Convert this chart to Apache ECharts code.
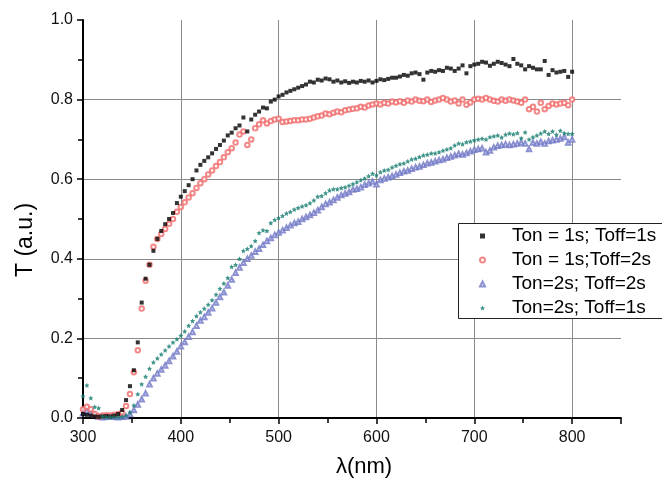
<!DOCTYPE html>
<html>
<head>
<meta charset="utf-8">
<script src="https://cdn.jsdelivr.net/npm/echarts@6/dist/echarts.min.js"></script>
<style>
html,body{margin:0;padding:0;background:#fff;}
#chart{width:662px;height:484px;}
</style>
</head>
<body>
<div id="chart"></div>
<script>
const wavelengths = [
  300,304,308,312,316,320,324,328,332,336,
  340,344,348,352,356,360,364,368,372,376,
  380,384,388,392,396,400,404,408,412,416,
  420,424,428,432,436,440,444,448,452,456,
  460,464,468,472,476,480,484,488,492,496,
  500,504,508,512,516,520,524,528,532,536,
  540,544,548,552,556,560,564,568,572,576,
  580,584,588,592,596,600,604,608,612,616,
  620,624,628,632,636,640,644,648,652,656,
  660,664,668,672,676,680,684,688,692,696,
  700,704,708,712,716,720,724,728,732,736,
  740,744,748,752,756,760,764,768,772,776,
  780,784,788,792,796,800
];
const seriesNames = ['Ton = 1s; Toff=1s', 'Ton = 1s;Toff=2s', 'Ton=2s; Toff=2s', 'Ton=2s; Toff=1s'];
const tOn1Off1 = [
  0.010,0.008,0.006,0.004,0.003,0.004,0.005,0.004,0.006,0.010,
  0.020,0.045,0.080,0.120,0.190,0.290,0.350,0.385,0.420,0.450,
  0.470,0.487,0.500,0.515,0.540,0.556,0.570,0.585,0.600,0.622,
  0.636,0.646,0.655,0.665,0.676,0.686,0.697,0.710,0.717,0.728,
  0.735,0.755,0.720,0.750,0.762,0.770,0.780,0.778,0.795,0.800,
  0.808,0.812,0.818,0.822,0.826,0.830,0.834,0.838,0.845,0.843,
  0.850,0.848,0.853,0.851,0.845,0.848,0.843,0.846,0.842,0.845,
  0.843,0.847,0.845,0.848,0.843,0.847,0.851,0.849,0.852,0.855,
  0.855,0.858,0.862,0.860,0.866,0.868,0.864,0.850,0.868,0.872,
  0.870,0.874,0.872,0.880,0.878,0.872,0.878,0.886,0.866,0.884,
  0.888,0.890,0.895,0.893,0.885,0.890,0.895,0.892,0.888,0.884,
  0.902,0.890,0.886,0.876,0.884,0.880,0.876,0.876,0.897,0.862,
  0.874,0.868,0.870,0.872,0.857,0.870
];
const tOn1Off2 = [
  0.022,0.028,0.022,0.010,0.004,0.006,0.007,0.006,0.008,0.010,
  0.014,0.030,0.060,0.115,0.170,0.275,0.345,0.385,0.430,0.450,
  0.462,0.475,0.488,0.500,0.518,0.530,0.542,0.554,0.565,0.578,
  0.590,0.600,0.612,0.622,0.633,0.643,0.655,0.668,0.678,0.692,
  0.712,0.720,0.686,0.700,0.728,0.738,0.748,0.740,0.746,0.750,
  0.752,0.744,0.745,0.746,0.748,0.748,0.750,0.750,0.752,0.755,
  0.758,0.760,0.765,0.763,0.767,0.770,0.768,0.773,0.775,0.777,
  0.778,0.782,0.780,0.785,0.788,0.790,0.788,0.792,0.790,0.795,
  0.793,0.796,0.792,0.798,0.795,0.800,0.797,0.796,0.800,0.794,
  0.798,0.800,0.804,0.800,0.795,0.798,0.790,0.800,0.787,0.793,
  0.800,0.802,0.800,0.804,0.800,0.797,0.795,0.800,0.797,0.800,
  0.798,0.795,0.792,0.800,0.776,0.782,0.770,0.792,0.776,0.784,
  0.790,0.788,0.790,0.792,0.786,0.800
];
const tOn2Off2 = [
  0.012,0.018,0.014,0.008,0.003,0.002,0.003,0.004,0.003,0.002,
  0.003,0.004,0.010,0.020,0.034,0.047,0.062,0.085,0.100,0.112,
  0.122,0.132,0.143,0.155,0.167,0.180,0.191,0.204,0.216,0.232,
  0.245,0.254,0.265,0.276,0.290,0.304,0.316,0.333,0.348,0.365,
  0.378,0.390,0.400,0.408,0.418,0.425,0.435,0.445,0.452,0.460,
  0.466,0.472,0.478,0.484,0.490,0.493,0.500,0.505,0.510,0.516,
  0.522,0.530,0.538,0.542,0.548,0.554,0.560,0.564,0.568,0.574,
  0.576,0.580,0.586,0.590,0.594,0.587,0.598,0.602,0.605,0.608,
  0.612,0.616,0.620,0.622,0.626,0.630,0.632,0.636,0.640,0.642,
  0.645,0.648,0.650,0.654,0.657,0.660,0.664,0.662,0.666,0.670,
  0.674,0.676,0.678,0.668,0.672,0.680,0.684,0.686,0.688,0.686,
  0.688,0.690,0.692,0.690,0.676,0.692,0.690,0.694,0.690,0.696,
  0.698,0.700,0.702,0.706,0.692,0.700
];
const tOn2Off1 = [
  0.055,0.082,0.050,0.028,0.025,0.004,0.002,0.002,0.002,0.002,
  0.003,0.006,0.014,0.032,0.060,0.085,0.104,0.124,0.140,0.150,
  0.160,0.170,0.180,0.190,0.198,0.207,0.218,0.232,0.244,0.256,
  0.266,0.275,0.285,0.296,0.310,0.325,0.338,0.352,0.380,0.385,
  0.400,0.420,0.425,0.432,0.445,0.465,0.472,0.470,0.490,0.498,
  0.503,0.508,0.514,0.518,0.524,0.528,0.532,0.535,0.540,0.547,
  0.556,0.558,0.565,0.572,0.575,0.575,0.578,0.580,0.584,0.588,
  0.593,0.598,0.602,0.608,0.614,0.610,0.618,0.622,0.624,0.630,
  0.634,0.638,0.640,0.645,0.650,0.652,0.656,0.660,0.662,0.665,
  0.665,0.668,0.672,0.675,0.678,0.685,0.690,0.688,0.693,0.695,
  0.698,0.700,0.702,0.700,0.706,0.708,0.710,0.705,0.712,0.715,
  0.713,0.716,0.703,0.718,0.700,0.706,0.710,0.715,0.720,0.714,
  0.720,0.712,0.722,0.716,0.714,0.714
];
const xTicks = [300, 400, 500, 600, 700, 800];
const yTicks = [0.0, 0.2, 0.4, 0.6, 0.8, 1.0];

function pairs(ys) { return wavelengths.map((x, i) => [x, ys[i]]); }

const FONT = '"Liberation Sans", Arial, sans-serif';
const STAR = 'path://M0,-10L2.94,-4.05L9.51,-3.09L4.76,1.55L5.88,8.09L0,5L-5.88,8.09L-4.76,1.55L-9.51,-3.09L-2.94,-4.05Z';

const chart = echarts.init(document.getElementById('chart'), null, {renderer: 'canvas'});
chart.setOption({
  animation: false,
  backgroundColor: '#fff',
  grid: {left: 83, top: 20, right: 41, bottom: 66, containLabel: false},
  xAxis: {
    type: 'value', min: 300, max: 850, interval: 100,
    axisLine: {show: true, onZero: false, lineStyle: {color: '#000', width: 1.8}},
    axisTick: {show: true, inside: false, length: 6, lineStyle: {color: '#000', width: 1.5}},
    minorTick: {show: true, splitNumber: 2, length: 5, lineStyle: {color: '#000', width: 1.5}},
    axisLabel: {
      show: true, margin: 12, color: '#111', fontSize: 16, fontFamily: FONT,
      showMaxLabel: false,
      formatter: v => xTicks.indexOf(v) >= 0 ? String(v) : ''
    },
    splitLine: {show: true, showMinLine: false, showMaxLine: false, lineStyle: {color: '#8a8a8a', width: 1}}
  },
  yAxis: {
    type: 'value', min: 0, max: 1, interval: 0.2,
    axisLine: {show: true, onZero: false, lineStyle: {color: '#000', width: 2}},
    axisTick: {show: true, inside: false, length: 6, lineStyle: {color: '#000', width: 1.5}},
    minorTick: {show: true, splitNumber: 2, length: 5, lineStyle: {color: '#000', width: 1.5}},
    axisLabel: {
      show: true, margin: 10, color: '#111', fontSize: 16, fontFamily: FONT,
      formatter: v => {
        const t = yTicks.find(k => Math.abs(k - v) < 1e-6);
        return t === undefined ? '' : t.toFixed(1);
      }
    },
    splitLine: {show: true, showMinLine: false, showMaxLine: false, lineStyle: {color: '#8a8a8a', width: 1}}
  },
  legend: {
    show: true, orient: 'vertical', left: 458, top: 223,
    padding: [3, 2, 1, 21], itemGap: 4,
    itemWidth: 5, itemHeight: 5,
    backgroundColor: 'transparent', borderWidth: 0,
    textStyle: {fontSize: 19, fontFamily: FONT, color: '#000', lineHeight: 20, padding: [0, 0, 0, 22]},
    data: seriesNames
  },
  graphic: [
    {type: 'rect', z: 3, shape: {x: 458.5, y: 223.5, width: 240, height: 95},
      style: {fill: '#fff', stroke: '#222', lineWidth: 1}},
    {type: 'text', x: 26, y: 240, rotation: Math.PI / 2,
      style: {text: 'T (a.u.)', fontSize: 23, fontFamily: FONT, fill: '#000', align: 'center', verticalAlign: 'middle'}},
    {type: 'text', x: 364, y: 467,
      style: {text: 'λ(nm)', fontSize: 22, fontFamily: FONT, fill: '#000', align: 'center', verticalAlign: 'middle'}}
  ],
  series: [
    {name: seriesNames[0], type: 'scatter', symbol: 'rect', symbolSize: 4,
      itemStyle: {color: '#000'}, data: pairs(tOn1Off1), z: 5},
    {name: seriesNames[1], type: 'scatter', symbol: 'emptyCircle', symbolSize: 4.5,
      itemStyle: {color: '#f06a6a', borderWidth: 1}, data: pairs(tOn1Off2), z: 4},
    {name: seriesNames[2], type: 'scatter', symbol: 'emptyTriangle', symbolSize: 4.5,
      itemStyle: {color: '#6e76c6', borderWidth: 1}, data: pairs(tOn2Off2), z: 3},
    {name: seriesNames[3], type: 'scatter', symbol: STAR, symbolSize: 5,
      itemStyle: {color: '#127a6e'}, data: pairs(tOn2Off1), z: 6}
  ]
});
</script>
</body>
</html>
